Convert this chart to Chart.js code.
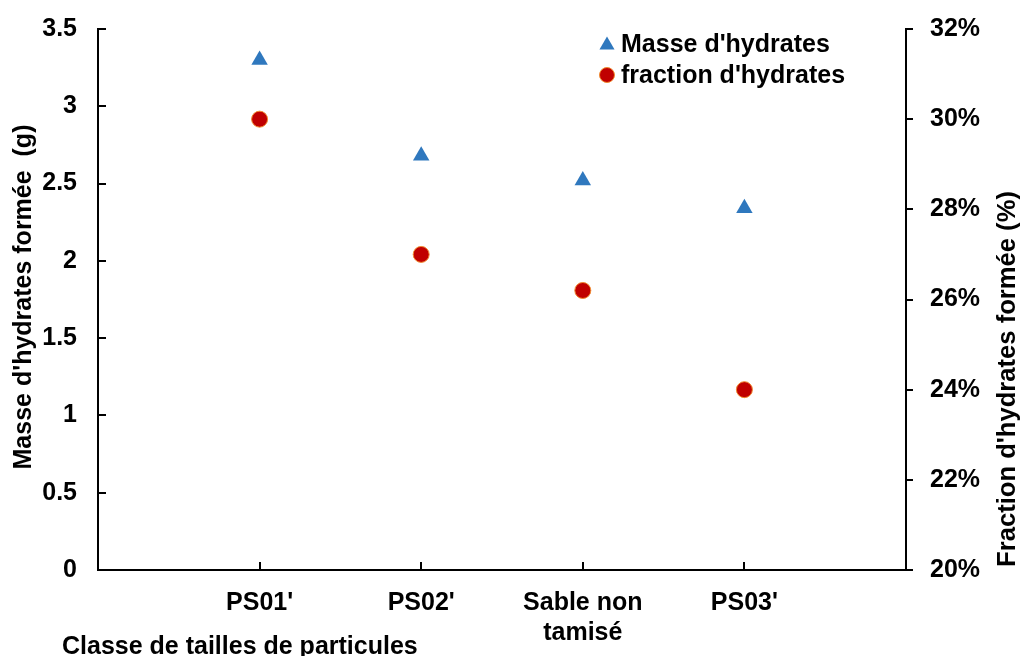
<!DOCTYPE html>
<html>
<head>
<meta charset="utf-8">
<script src="https://cdn.jsdelivr.net/npm/chart.js@4/dist/chart.umd.min.js"></script>
<style>
  html, body { margin: 0; padding: 0; background: #ffffff; }
  #wrap { width: 1020px; height: 656px; position: relative; }
</style>
</head>
<body>
<div id="wrap"><canvas id="c"></canvas></div>
<script>
// ---- data ----
const categories = ["PS01'", "PS02'", ["Sable non", "tamisé"], "PS03'"];
const masseHydrates = [3.30, 2.68, 2.52, 2.34];          // g (left axis)
const fractionHydrates = [30.0, 27.0, 26.2, 24.0];       // % (right axis)
const seriesNames = ["Masse d'hydrates", "fraction d'hydrates"];
const leftTitle = "Masse d'hydrates formée  (g)";
const rightTitle = "Fraction d'hydrates formée (%)";
const xTitle = "Classe de tailles de particules";

const FONT_FAMILY = "'Liberation Sans', Arial, Helvetica, sans-serif";
const FONT = "bold 25px " + FONT_FAMILY;
const BLUE = '#2f78be';
const RED = '#c00000';
const ORANGE = '#f08a30';

const toPoints = arr => arr.map((v, i) => ({ x: i + 1, y: v }));

const extraText = {
  id: 'extraText',
  afterDraw(chart) {
    const ctx = chart.ctx;
    ctx.save();
    ctx.fillStyle = '#000';
    ctx.font = FONT;
    // left axis title
    ctx.save();
    ctx.translate(31, 297);
    ctx.rotate(-Math.PI / 2);
    ctx.textAlign = 'center';
    ctx.textBaseline = 'alphabetic';
    ctx.fillText(leftTitle, 0, 0);
    ctx.restore();
    // right axis title
    ctx.save();
    ctx.font = "bold 25.6px " + FONT_FAMILY;
    ctx.translate(1015, 379);
    ctx.rotate(-Math.PI / 2);
    ctx.textAlign = 'center';
    ctx.textBaseline = 'alphabetic';
    ctx.fillText(rightTitle, 0, 0);
    ctx.restore();
    // x axis title
    ctx.textAlign = 'left';
    ctx.textBaseline = 'alphabetic';
    ctx.fillText(xTitle, 62, 654);

    // legend (inside plot, top right)
    const lx = 607;
    const rows = [43, 75];
    const r = 8.7;
    ctx.fillStyle = BLUE;
    ctx.beginPath();
    ctx.moveTo(lx, rows[0] - r * 0.75);
    ctx.lineTo(lx + r * 0.866, rows[0] + r * 0.75);
    ctx.lineTo(lx - r * 0.866, rows[0] + r * 0.75);
    ctx.closePath();
    ctx.fill();
    ctx.beginPath();
    ctx.arc(lx, rows[1], 7.5, 0, Math.PI * 2);
    ctx.fillStyle = RED;
    ctx.fill();
    ctx.lineWidth = 1;
    ctx.strokeStyle = ORANGE;
    ctx.stroke();
    ctx.fillStyle = '#000';
    ctx.textAlign = 'left';
    ctx.fillText(seriesNames[0], 621, 52);
    ctx.fillText(seriesNames[1], 621, 83);
    ctx.restore();
  }
};

new Chart(document.getElementById('c'), {
  type: 'scatter',
  data: {
    datasets: [
      {
        label: seriesNames[0],
        data: toPoints(masseHydrates),
        yAxisID: 'y',
        pointStyle: 'triangle',
        pointRadius: 9.5,
        backgroundColor: BLUE,
        borderColor: BLUE,
        borderWidth: 0
      },
      {
        label: seriesNames[1],
        data: toPoints(fractionHydrates),
        yAxisID: 'y1',
        pointStyle: 'circle',
        pointRadius: 8,
        backgroundColor: RED,
        borderColor: ORANGE,
        borderWidth: 1
      }
    ]
  },
  options: {
    responsive: true,
    maintainAspectRatio: false,
    animation: false,
    events: [],
    layout: { padding: { top: 29, left: 0, right: 0, bottom: 0 } },
    plugins: {
      legend: { display: false },
      tooltip: { enabled: false },
      title: { display: false }
    },
    scales: {
      x: {
        type: 'linear',
        position: 'bottom',
        min: 0,
        max: 5,
        afterFit: s => { s.height = 86; s.paddingLeft = 0; s.paddingRight = 0; },
        border: { display: true, color: '#000', width: 2 },
        grid: { display: true, drawOnChartArea: false, drawTicks: true, tickLength: -8, color: '#000', lineWidth: 2 },
        ticks: {
          stepSize: 1,
          autoSkip: false,
          maxRotation: 0,
          padding: 26,
          color: '#000',
          font: { family: FONT_FAMILY, size: 25, weight: 'bold' },
          callback: v => (v >= 1 && v <= categories.length) ? categories[v - 1] : ''
        }
      },
      y: {
        type: 'linear',
        position: 'left',
        min: 0,
        max: 3.5,
        afterFit: s => { s.width = 98; s.paddingTop = 0; s.paddingBottom = 0; },
        border: { display: true, color: '#000', width: 2 },
        grid: { display: true, drawOnChartArea: false, drawTicks: true, tickLength: -8, color: '#000', lineWidth: 2 },
        ticks: {
          stepSize: 0.5,
          padding: 29,
          color: '#000',
          font: { family: FONT_FAMILY, size: 25, weight: 'bold' },
          callback: v => String(v)
        }
      },
      y1: {
        type: 'linear',
        position: 'right',
        min: 20,
        max: 32,
        afterFit: s => { s.width = 114; s.paddingTop = 0; s.paddingBottom = 0; },
        border: { display: true, color: '#000', width: 2 },
        grid: { display: true, drawOnChartArea: false, drawTicks: true, tickLength: 7, color: '#000', lineWidth: 2 },
        ticks: {
          stepSize: 2,
          padding: 17,
          color: '#000',
          font: { family: FONT_FAMILY, size: 25, weight: 'bold' },
          callback: v => v + '%'
        }
      }
    }
  },
  plugins: [extraText]
});
</script>
</body>
</html>
